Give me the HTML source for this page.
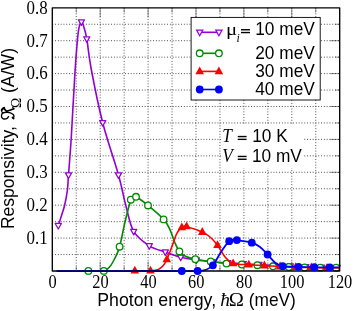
<!DOCTYPE html><html><head><meta charset="utf-8"><style>html,body{margin:0;padding:0;background:#fff;}svg{display:block}text{font-family:"Liberation Sans",sans-serif;fill:#000}.s{font-family:"Liberation Serif",serif}</style></head><body>
<svg width="354" height="311" viewBox="0 0 354 311">
<rect width="354" height="311" fill="#fff"/>
<g><line x1="76.25" y1="7.80" x2="76.25" y2="271.00" stroke="#000" stroke-width="0.75" stroke-dasharray="0.9 1.9"/><line x1="100.20" y1="7.80" x2="100.20" y2="271.00" stroke="#000" stroke-width="0.75" stroke-dasharray="0.9 1.9"/><line x1="124.15" y1="7.80" x2="124.15" y2="271.00" stroke="#000" stroke-width="0.75" stroke-dasharray="0.9 1.9"/><line x1="148.10" y1="7.80" x2="148.10" y2="271.00" stroke="#000" stroke-width="0.75" stroke-dasharray="0.9 1.9"/><line x1="172.05" y1="7.80" x2="172.05" y2="271.00" stroke="#000" stroke-width="0.75" stroke-dasharray="0.9 1.9"/><line x1="196.00" y1="7.80" x2="196.00" y2="271.00" stroke="#000" stroke-width="0.75" stroke-dasharray="0.9 1.9"/><line x1="219.95" y1="7.80" x2="219.95" y2="271.00" stroke="#000" stroke-width="0.75" stroke-dasharray="0.9 1.9"/><line x1="243.90" y1="7.80" x2="243.90" y2="271.00" stroke="#000" stroke-width="0.75" stroke-dasharray="0.9 1.9"/><line x1="267.85" y1="7.80" x2="267.85" y2="271.00" stroke="#000" stroke-width="0.75" stroke-dasharray="0.9 1.9"/><line x1="291.80" y1="7.80" x2="291.80" y2="271.00" stroke="#000" stroke-width="0.75" stroke-dasharray="0.9 1.9"/><line x1="315.75" y1="7.80" x2="315.75" y2="271.00" stroke="#000" stroke-width="0.75" stroke-dasharray="0.9 1.9"/><line x1="52.30" y1="254.55" x2="339.70" y2="254.55" stroke="#000" stroke-width="0.75" stroke-dasharray="0.9 1.9"/><line x1="52.30" y1="238.10" x2="339.70" y2="238.10" stroke="#000" stroke-width="0.75" stroke-dasharray="0.9 1.9"/><line x1="52.30" y1="221.65" x2="339.70" y2="221.65" stroke="#000" stroke-width="0.75" stroke-dasharray="0.9 1.9"/><line x1="52.30" y1="205.20" x2="339.70" y2="205.20" stroke="#000" stroke-width="0.75" stroke-dasharray="0.9 1.9"/><line x1="52.30" y1="188.75" x2="339.70" y2="188.75" stroke="#000" stroke-width="0.75" stroke-dasharray="0.9 1.9"/><line x1="52.30" y1="172.30" x2="339.70" y2="172.30" stroke="#000" stroke-width="0.75" stroke-dasharray="0.9 1.9"/><line x1="52.30" y1="155.85" x2="339.70" y2="155.85" stroke="#000" stroke-width="0.75" stroke-dasharray="0.9 1.9"/><line x1="52.30" y1="139.40" x2="339.70" y2="139.40" stroke="#000" stroke-width="0.75" stroke-dasharray="0.9 1.9"/><line x1="52.30" y1="122.95" x2="339.70" y2="122.95" stroke="#000" stroke-width="0.75" stroke-dasharray="0.9 1.9"/><line x1="52.30" y1="106.50" x2="339.70" y2="106.50" stroke="#000" stroke-width="0.75" stroke-dasharray="0.9 1.9"/><line x1="52.30" y1="90.05" x2="339.70" y2="90.05" stroke="#000" stroke-width="0.75" stroke-dasharray="0.9 1.9"/><line x1="52.30" y1="73.60" x2="339.70" y2="73.60" stroke="#000" stroke-width="0.75" stroke-dasharray="0.9 1.9"/><line x1="52.30" y1="57.15" x2="339.70" y2="57.15" stroke="#000" stroke-width="0.75" stroke-dasharray="0.9 1.9"/><line x1="52.30" y1="40.70" x2="339.70" y2="40.70" stroke="#000" stroke-width="0.75" stroke-dasharray="0.9 1.9"/><line x1="52.30" y1="24.25" x2="339.70" y2="24.25" stroke="#000" stroke-width="0.75" stroke-dasharray="0.9 1.9"/></g>
<g><line x1="76.25" y1="7.80" x2="76.25" y2="12.50" stroke="#000" stroke-width="0.55" stroke-opacity="0.8"/><line x1="76.25" y1="271.00" x2="76.25" y2="266.30" stroke="#000" stroke-width="0.55" stroke-opacity="0.8"/><line x1="100.20" y1="7.80" x2="100.20" y2="17.30" stroke="#000" stroke-width="0.55" stroke-opacity="0.8"/><line x1="100.20" y1="271.00" x2="100.20" y2="261.50" stroke="#000" stroke-width="0.55" stroke-opacity="0.8"/><line x1="124.15" y1="7.80" x2="124.15" y2="12.50" stroke="#000" stroke-width="0.55" stroke-opacity="0.8"/><line x1="124.15" y1="271.00" x2="124.15" y2="266.30" stroke="#000" stroke-width="0.55" stroke-opacity="0.8"/><line x1="148.10" y1="7.80" x2="148.10" y2="17.30" stroke="#000" stroke-width="0.55" stroke-opacity="0.8"/><line x1="148.10" y1="271.00" x2="148.10" y2="261.50" stroke="#000" stroke-width="0.55" stroke-opacity="0.8"/><line x1="172.05" y1="7.80" x2="172.05" y2="12.50" stroke="#000" stroke-width="0.55" stroke-opacity="0.8"/><line x1="172.05" y1="271.00" x2="172.05" y2="266.30" stroke="#000" stroke-width="0.55" stroke-opacity="0.8"/><line x1="196.00" y1="7.80" x2="196.00" y2="17.30" stroke="#000" stroke-width="0.55" stroke-opacity="0.8"/><line x1="196.00" y1="271.00" x2="196.00" y2="261.50" stroke="#000" stroke-width="0.55" stroke-opacity="0.8"/><line x1="219.95" y1="7.80" x2="219.95" y2="12.50" stroke="#000" stroke-width="0.55" stroke-opacity="0.8"/><line x1="219.95" y1="271.00" x2="219.95" y2="266.30" stroke="#000" stroke-width="0.55" stroke-opacity="0.8"/><line x1="243.90" y1="7.80" x2="243.90" y2="17.30" stroke="#000" stroke-width="0.55" stroke-opacity="0.8"/><line x1="243.90" y1="271.00" x2="243.90" y2="261.50" stroke="#000" stroke-width="0.55" stroke-opacity="0.8"/><line x1="267.85" y1="7.80" x2="267.85" y2="12.50" stroke="#000" stroke-width="0.55" stroke-opacity="0.8"/><line x1="267.85" y1="271.00" x2="267.85" y2="266.30" stroke="#000" stroke-width="0.55" stroke-opacity="0.8"/><line x1="291.80" y1="7.80" x2="291.80" y2="17.30" stroke="#000" stroke-width="0.55" stroke-opacity="0.8"/><line x1="291.80" y1="271.00" x2="291.80" y2="261.50" stroke="#000" stroke-width="0.55" stroke-opacity="0.8"/><line x1="315.75" y1="7.80" x2="315.75" y2="12.50" stroke="#000" stroke-width="0.55" stroke-opacity="0.8"/><line x1="315.75" y1="271.00" x2="315.75" y2="266.30" stroke="#000" stroke-width="0.55" stroke-opacity="0.8"/><line x1="339.70" y1="254.55" x2="335.00" y2="254.55" stroke="#000" stroke-width="0.55" stroke-opacity="0.8"/><line x1="339.70" y1="238.10" x2="330.20" y2="238.10" stroke="#000" stroke-width="0.55" stroke-opacity="0.8"/><line x1="339.70" y1="221.65" x2="335.00" y2="221.65" stroke="#000" stroke-width="0.55" stroke-opacity="0.8"/><line x1="339.70" y1="205.20" x2="330.20" y2="205.20" stroke="#000" stroke-width="0.55" stroke-opacity="0.8"/><line x1="339.70" y1="188.75" x2="335.00" y2="188.75" stroke="#000" stroke-width="0.55" stroke-opacity="0.8"/><line x1="339.70" y1="172.30" x2="330.20" y2="172.30" stroke="#000" stroke-width="0.55" stroke-opacity="0.8"/><line x1="339.70" y1="155.85" x2="335.00" y2="155.85" stroke="#000" stroke-width="0.55" stroke-opacity="0.8"/><line x1="339.70" y1="139.40" x2="330.20" y2="139.40" stroke="#000" stroke-width="0.55" stroke-opacity="0.8"/><line x1="339.70" y1="122.95" x2="335.00" y2="122.95" stroke="#000" stroke-width="0.55" stroke-opacity="0.8"/><line x1="339.70" y1="106.50" x2="330.20" y2="106.50" stroke="#000" stroke-width="0.55" stroke-opacity="0.8"/><line x1="339.70" y1="90.05" x2="335.00" y2="90.05" stroke="#000" stroke-width="0.55" stroke-opacity="0.8"/><line x1="339.70" y1="73.60" x2="330.20" y2="73.60" stroke="#000" stroke-width="0.55" stroke-opacity="0.8"/><line x1="339.70" y1="57.15" x2="335.00" y2="57.15" stroke="#000" stroke-width="0.55" stroke-opacity="0.8"/><line x1="339.70" y1="40.70" x2="330.20" y2="40.70" stroke="#000" stroke-width="0.55" stroke-opacity="0.8"/><line x1="339.70" y1="24.25" x2="335.00" y2="24.25" stroke="#000" stroke-width="0.55" stroke-opacity="0.8"/></g>
<rect x="221" y="124.6" width="83" height="43.5" fill="#fff"/>
<rect x="191.1" y="17.4" width="129.1" height="82.6" fill="#fff" stroke="#000" stroke-width="0.9"/>
<g fill="none" stroke-linejoin="round" stroke-linecap="butt">
<path d="M58.30,225.60 C58.83,223.92 60.43,218.93 61.50,215.50 C62.57,212.07 63.72,209.25 64.70,205.00 C65.68,200.75 66.77,195.00 67.40,190.00 C68.03,185.00 67.85,183.83 68.50,175.00 C69.15,166.17 70.22,154.17 71.30,137.00 C72.38,119.83 73.83,89.50 75.00,72.00 C76.17,54.50 77.23,40.35 78.30,32.00 C79.37,23.65 80.45,22.65 81.40,21.90 C82.35,21.15 83.10,24.67 84.00,27.50 C84.90,30.33 85.57,31.82 86.80,38.90 C88.03,45.98 88.75,56.03 91.40,70.00 C94.05,83.97 98.18,105.20 102.70,122.70 C107.22,140.20 114.67,161.28 118.50,175.00 C122.33,188.72 123.17,195.60 125.70,205.00 C128.23,214.40 129.77,224.60 133.70,231.40 C137.63,238.20 144.03,242.37 149.30,245.80 C154.57,249.23 160.07,250.08 165.30,252.00 C170.53,253.92 175.52,255.97 180.70,257.30 C185.88,258.63 191.13,259.27 196.35,260.00 C201.57,260.73 206.78,261.23 212.00,261.70 C217.22,262.17 222.43,262.47 227.65,262.80 C232.87,263.13 238.08,263.40 243.30,263.70 C248.52,264.00 253.73,264.32 258.95,264.60 C264.17,264.88 269.38,265.15 274.60,265.40 C279.82,265.65 285.03,265.88 290.25,266.10 C295.47,266.32 300.68,266.52 305.90,266.70 C311.12,266.88 316.33,267.05 321.55,267.20 C326.77,267.35 334.21,267.52 337.20,267.60 C340.19,267.68 339.12,267.68 339.50,267.70" stroke="#9400d3" stroke-width="1.60"/>
<g stroke="#9400d3" stroke-width="1.25" fill="#fff"><path d="M55.20,223.47 L61.40,223.47 L58.30,229.07 Z"/><path d="M65.40,172.87 L71.60,172.87 L68.50,178.47 Z"/><path d="M78.30,19.77 L84.50,19.77 L81.40,25.37 Z"/><path d="M83.70,36.77 L89.90,36.77 L86.80,42.37 Z"/><path d="M99.60,120.57 L105.80,120.57 L102.70,126.17 Z"/><path d="M115.40,172.87 L121.60,172.87 L118.50,178.47 Z"/><path d="M130.60,229.27 L136.80,229.27 L133.70,234.87 Z"/><path d="M146.20,243.67 L152.40,243.67 L149.30,249.27 Z"/><path d="M162.20,249.87 L168.40,249.87 L165.30,255.47 Z"/><path d="M177.60,255.17 L183.80,255.17 L180.70,260.77 Z"/><path d="M193.25,257.87 L199.45,257.87 L196.35,263.47 Z"/><path d="M208.90,259.57 L215.10,259.57 L212.00,265.17 Z"/><path d="M224.55,260.67 L230.75,260.67 L227.65,266.27 Z"/><path d="M240.20,261.57 L246.40,261.57 L243.30,267.17 Z"/><path d="M255.85,262.47 L262.05,262.47 L258.95,268.07 Z"/><path d="M271.50,263.27 L277.70,263.27 L274.60,268.87 Z"/><path d="M287.15,263.97 L293.35,263.97 L290.25,269.57 Z"/><path d="M302.80,264.57 L309.00,264.57 L305.90,270.17 Z"/><path d="M318.45,265.07 L324.65,265.07 L321.55,270.67 Z"/><path d="M334.10,265.47 L340.30,265.47 L337.20,271.07 Z"/></g>
<path d="M88.40,270.90 C90.97,270.90 100.22,271.63 103.80,270.90 C107.38,270.17 108.03,268.65 109.90,266.50 C111.77,264.35 113.38,261.30 115.00,258.00 C116.62,254.70 117.93,252.70 119.60,246.70 C121.27,240.70 123.13,229.83 125.00,222.00 C126.87,214.17 129.42,203.83 130.80,199.70 C132.18,195.57 132.43,197.68 133.30,197.20 C134.17,196.72 133.55,195.43 136.00,196.80 C138.45,198.17 143.40,201.63 148.00,205.40 C152.60,209.17 159.95,215.37 163.60,219.40 C167.25,223.43 167.98,225.63 169.90,229.60 C171.82,233.57 173.52,239.57 175.10,243.20 C176.68,246.83 177.58,249.18 179.40,251.40 C181.22,253.62 183.35,255.20 186.00,256.50 C188.65,257.80 191.18,258.37 195.30,259.20 C199.42,260.03 205.50,260.77 210.70,261.50 C215.90,262.23 221.32,263.10 226.50,263.60 C231.68,264.10 236.65,264.23 241.80,264.50 C246.95,264.77 252.20,264.90 257.40,265.20 C262.60,265.50 267.75,266.00 273.00,266.30 C278.25,266.60 283.63,266.80 288.90,267.00 C294.17,267.20 299.37,267.40 304.60,267.50 C309.83,267.60 315.05,267.57 320.30,267.60 C325.55,267.63 332.90,267.68 336.10,267.70 C339.30,267.72 338.93,267.70 339.50,267.70" stroke="#008a00" stroke-width="1.60"/>
<g stroke="#008a00" stroke-width="1.3" fill="#fff"><circle cx="88.40" cy="270.90" r="3.3"/><circle cx="103.80" cy="270.90" r="3.3"/><circle cx="119.60" cy="246.70" r="3.3"/><circle cx="130.80" cy="199.70" r="3.3"/><circle cx="136.00" cy="196.80" r="3.3"/><circle cx="148.00" cy="205.40" r="3.3"/><circle cx="163.60" cy="219.40" r="3.3"/><circle cx="179.40" cy="251.40" r="3.3"/><circle cx="195.30" cy="259.20" r="3.3"/><circle cx="210.70" cy="261.50" r="3.3"/><circle cx="226.50" cy="263.60" r="3.3"/><circle cx="241.80" cy="264.50" r="3.3"/><circle cx="257.40" cy="265.20" r="3.3"/><circle cx="273.00" cy="266.30" r="3.3"/><circle cx="288.90" cy="267.00" r="3.3"/><circle cx="304.60" cy="267.50" r="3.3"/><circle cx="320.30" cy="267.60" r="3.3"/><circle cx="336.10" cy="267.70" r="3.3"/></g>
<path d="M134.80,270.70 C137.42,270.70 146.57,270.90 150.50,270.70 C154.43,270.50 156.20,270.45 158.40,269.50 C160.60,268.55 162.30,266.67 163.70,265.00 C165.10,263.33 165.42,262.62 166.80,259.50 C168.18,256.38 170.43,250.42 172.00,246.30 C173.57,242.18 174.98,237.58 176.20,234.80 C177.42,232.02 178.37,230.82 179.30,229.60 C180.23,228.38 180.98,228.03 181.80,227.50 C182.62,226.97 183.40,226.57 184.20,226.40 C185.00,226.23 183.58,225.55 186.60,226.50 C189.62,227.45 198.40,230.35 202.30,232.10 C206.20,233.85 207.47,234.82 210.00,237.00 C212.53,239.18 214.92,241.78 217.50,245.20 C220.08,248.62 222.90,254.47 225.50,257.50 C228.10,260.53 229.22,262.20 233.10,263.40 C236.98,264.60 243.58,264.33 248.80,264.70 C254.02,265.07 259.18,265.28 264.40,265.60 C269.62,265.92 274.88,266.33 280.10,266.60 C285.32,266.87 290.48,267.03 295.70,267.20 C300.92,267.37 306.18,267.48 311.40,267.60 C316.62,267.72 322.32,267.83 327.00,267.90 C331.68,267.97 337.42,267.98 339.50,268.00" stroke="#ff0000" stroke-width="1.60"/>
<g stroke="none" fill="#ff0000"><path d="M130.50,273.51 L139.10,273.51 L134.80,265.71 Z"/><path d="M146.20,273.51 L154.80,273.51 L150.50,265.71 Z"/><path d="M162.50,262.31 L171.10,262.31 L166.80,254.51 Z"/><path d="M177.50,230.31 L186.10,230.31 L181.80,222.51 Z"/><path d="M182.30,229.31 L190.90,229.31 L186.60,221.51 Z"/><path d="M198.00,234.91 L206.60,234.91 L202.30,227.11 Z"/><path d="M213.20,248.01 L221.80,248.01 L217.50,240.21 Z"/><path d="M228.80,266.21 L237.40,266.21 L233.10,258.41 Z"/><path d="M244.50,267.51 L253.10,267.51 L248.80,259.71 Z"/><path d="M260.10,268.41 L268.70,268.41 L264.40,260.61 Z"/><path d="M275.80,269.41 L284.40,269.41 L280.10,261.61 Z"/><path d="M291.40,270.01 L300.00,270.01 L295.70,262.21 Z"/><path d="M307.10,270.41 L315.70,270.41 L311.40,262.61 Z"/><path d="M322.70,270.71 L331.30,270.71 L327.00,262.91 Z"/></g>
<path d="M56.60,271.10 C77.47,271.10 158.30,271.12 181.80,271.10 C205.30,271.08 193.57,271.23 197.60,271.00 C201.63,270.77 203.45,270.65 206.00,269.70 C208.55,268.75 210.40,268.25 212.90,265.30 C215.40,262.35 218.28,256.02 221.00,252.00 C223.72,247.98 227.20,243.20 229.20,241.20 C231.20,239.20 231.73,240.18 233.00,240.00 C234.27,239.82 233.67,239.65 236.80,240.10 C239.93,240.55 247.93,241.55 251.80,242.70 C255.67,243.85 257.37,245.03 260.00,247.00 C262.63,248.97 265.02,251.83 267.60,254.50 C270.18,257.17 272.98,261.05 275.50,263.00 C278.02,264.95 278.87,265.57 282.70,266.20 C286.53,266.83 293.25,266.62 298.50,266.80 C303.75,266.98 308.98,267.17 314.20,267.25 C319.42,267.33 325.58,267.28 329.80,267.30 C334.02,267.32 337.88,267.34 339.50,267.35" stroke="#0000ff" stroke-width="1.75"/>
<rect x="52.30" y="7.80" width="287.40" height="263.20" fill="none" stroke="#000" stroke-width="1.35"/>
<line x1="56.6" y1="271.05" x2="204" y2="271.05" stroke="#0000ff" stroke-opacity="0.38" stroke-width="1.6"/>
<g stroke="none" fill="#0000ff"><circle cx="181.80" cy="271.00" r="3.9"/><circle cx="197.60" cy="271.00" r="3.9"/><circle cx="212.90" cy="265.30" r="3.9"/><circle cx="229.20" cy="241.20" r="3.9"/><circle cx="236.80" cy="240.10" r="3.9"/><circle cx="251.80" cy="242.70" r="3.9"/><circle cx="267.60" cy="254.50" r="3.9"/><circle cx="282.70" cy="266.20" r="3.9"/><circle cx="298.50" cy="266.80" r="3.9"/><circle cx="314.20" cy="267.25" r="3.9"/><circle cx="329.80" cy="267.30" r="3.9"/></g>
</g>
<g fill="none">
<line x1="199.7" y1="32.3" x2="218.9" y2="32.3" stroke="#9400d3" stroke-width="1.60"/>
<g stroke="#9400d3" stroke-width="1.25" fill="#fff"><path d="M196.60,30.17 L202.80,30.17 L199.70,35.77 Z"/><path d="M215.80,30.17 L222.00,30.17 L218.90,35.77 Z"/></g>
<line x1="199.7" y1="53.3" x2="218.9" y2="53.3" stroke="#008a00" stroke-width="1.60"/>
<g stroke="#008a00" stroke-width="1.3" fill="#fff"><circle cx="199.7" cy="53.3" r="3.3"/><circle cx="218.9" cy="53.3" r="3.3"/></g>
<line x1="199.7" y1="71.4" x2="218.9" y2="71.4" stroke="#ff0000" stroke-width="1.60"/>
<g fill="#ff0000"><path d="M195.40,74.21 L204.00,74.21 L199.70,66.41 Z"/><path d="M214.60,74.21 L223.20,74.21 L218.90,66.41 Z"/></g>
<line x1="199.7" y1="89.5" x2="218.9" y2="89.5" stroke="#0000ff" stroke-width="1.60"/>
<g fill="#0000ff"><circle cx="199.7" cy="89.5" r="3.9"/><circle cx="218.9" cy="89.5" r="3.9"/></g>
</g>
<g opacity="0.999">
<text transform="translate(225.90,35.30) scale(1.200,1)" font-size="17.30" class="s">μ</text>
<text transform="translate(236.60,41.90)" font-size="11.80" class="s" font-style="italic">i</text>
<text transform="translate(314.80,35.40) scale(0.972,1)" font-size="17.80" text-anchor="end">10 meV</text>
<rect x="241.00" y="29.05" width="9.00" height="1.4"/><rect x="241.00" y="31.85" width="9.00" height="1.4"/>
<text transform="translate(314.80,59.40) scale(0.972,1)" font-size="17.80" text-anchor="end">20 meV</text>
<text transform="translate(314.80,77.40) scale(0.972,1)" font-size="17.80" text-anchor="end">30 meV</text>
<text transform="translate(314.80,94.80) scale(0.972,1)" font-size="17.80" text-anchor="end">40 meV</text>
<text transform="translate(222.20,142.20) scale(0.950,1)" font-size="18.20" class="s" font-style="italic">T</text>
<text transform="translate(287.80,142.00) scale(0.972,1)" font-size="17.80" text-anchor="end">10 K</text>
<rect x="237.75" y="135.85" width="8.85" height="1.4"/><rect x="237.75" y="138.65" width="8.85" height="1.4"/>
<text transform="translate(222.30,162.20) scale(0.950,1)" font-size="18.20" class="s" font-style="italic">V</text>
<text transform="translate(301.90,162.00) scale(0.972,1)" font-size="17.80" text-anchor="end">10 mV</text>
<rect x="237.75" y="155.75" width="8.85" height="1.4"/><rect x="237.75" y="158.55" width="8.85" height="1.4"/>
<text transform="translate(52.60,288.40) scale(0.850,1)" font-size="19.30" class="s" text-anchor="middle">0</text>
<text transform="translate(100.50,288.40) scale(0.850,1)" font-size="19.30" class="s" text-anchor="middle">20</text>
<text transform="translate(148.40,288.40) scale(0.850,1)" font-size="19.30" class="s" text-anchor="middle">40</text>
<text transform="translate(196.30,288.40) scale(0.850,1)" font-size="19.30" class="s" text-anchor="middle">60</text>
<text transform="translate(244.20,288.40) scale(0.850,1)" font-size="19.30" class="s" text-anchor="middle">80</text>
<text transform="translate(292.10,288.40) scale(0.850,1)" font-size="19.30" class="s" text-anchor="middle">100</text>
<text transform="translate(340.00,288.40) scale(0.850,1)" font-size="19.30" class="s" text-anchor="middle">120</text>
<text transform="translate(47.60,243.90) scale(0.865,1)" font-size="19.60" class="s" text-anchor="end">0.1</text>
<text transform="translate(47.60,211.00) scale(0.865,1)" font-size="19.60" class="s" text-anchor="end">0.2</text>
<text transform="translate(47.60,178.10) scale(0.865,1)" font-size="19.60" class="s" text-anchor="end">0.3</text>
<text transform="translate(47.60,145.20) scale(0.865,1)" font-size="19.60" class="s" text-anchor="end">0.4</text>
<text transform="translate(47.60,112.30) scale(0.865,1)" font-size="19.60" class="s" text-anchor="end">0.5</text>
<text transform="translate(47.60,79.40) scale(0.865,1)" font-size="19.60" class="s" text-anchor="end">0.6</text>
<text transform="translate(47.60,46.50) scale(0.865,1)" font-size="19.60" class="s" text-anchor="end">0.7</text>
<text transform="translate(47.60,13.60) scale(0.865,1)" font-size="19.60" class="s" text-anchor="end">0.8</text>
<text transform="translate(97.20,305.70) scale(0.943,1)" font-size="18.80">Photon energy,</text>
<text transform="translate(220.20,305.80) scale(1.030,1)" font-size="18.80" class="s" font-style="italic">ħ</text>
<text transform="translate(228.80,305.80) scale(1.147,1)" font-size="17.80" class="s">Ω</text>
<text transform="translate(248.80,305.70) scale(0.920,1)" font-size="18.80">(meV)</text>
<text transform="translate(13.70,229.10) rotate(-90) scale(0.933,1)" font-size="18.80">Responsivity,</text>
<text transform="translate(21.30,107.90) rotate(-90)" font-size="13.60" class="s">Ω</text>
<text transform="translate(13.70,93.00) rotate(-90) scale(0.939,1)" font-size="18.80">(A/W)</text>
</g>
<g fill="none" stroke="#000" stroke-linecap="round" stroke-linejoin="round"><path d="M8.50,116.60 C8.30,116.87 7.75,117.82 7.30,118.20 C6.85,118.58 6.35,118.77 5.80,118.90 C5.25,119.03 4.52,119.07 4.00,119.00 C3.48,118.93 3.08,118.78 2.70,118.50 C2.32,118.22 1.90,117.75 1.70,117.30 C1.50,116.85 1.48,116.32 1.50,115.80 C1.52,115.28 1.60,114.65 1.80,114.20 C2.00,113.75 2.25,113.38 2.70,113.10 C3.15,112.82 3.80,112.62 4.50,112.50 C5.20,112.38 6.07,112.37 6.90,112.40 C7.73,112.43 8.72,112.52 9.50,112.70 C10.28,112.88 10.98,113.18 11.60,113.50 C12.22,113.82 12.82,114.22 13.20,114.60 C13.58,114.98 13.80,115.38 13.90,115.80 C14.00,116.22 13.93,116.72 13.80,117.10 C13.67,117.48 13.22,117.93 13.10,118.10" stroke-width="1.35"/><path d="M2.70,113.10 C2.55,112.85 1.98,112.12 1.80,111.60 C1.62,111.08 1.63,110.27 1.60,110.00" stroke-width="1.2"/><path d="M1.70,110.10 C1.87,109.87 2.28,109.07 2.70,108.70 C3.12,108.33 3.95,108.03 4.20,107.90" stroke-width="2.0"/><path d="M3.70,108.40 C3.95,108.63 4.70,109.32 5.20,109.80 C5.70,110.28 6.45,111.05 6.70,111.30" stroke-width="1.8"/><path d="M6.70,111.30 C7.25,111.13 8.82,110.72 10.00,110.30 C11.18,109.88 13.17,109.05 13.80,108.80" stroke-width="1.7"/><path d="M13.80,108.80 C13.72,108.67 13.48,108.23 13.30,108.00 C13.12,107.77 12.80,107.50 12.70,107.40" stroke-width="1.2"/><path d="M12.6,117.6 L13.6,118.4" stroke-width="1.9"/></g>
</svg></body></html>
